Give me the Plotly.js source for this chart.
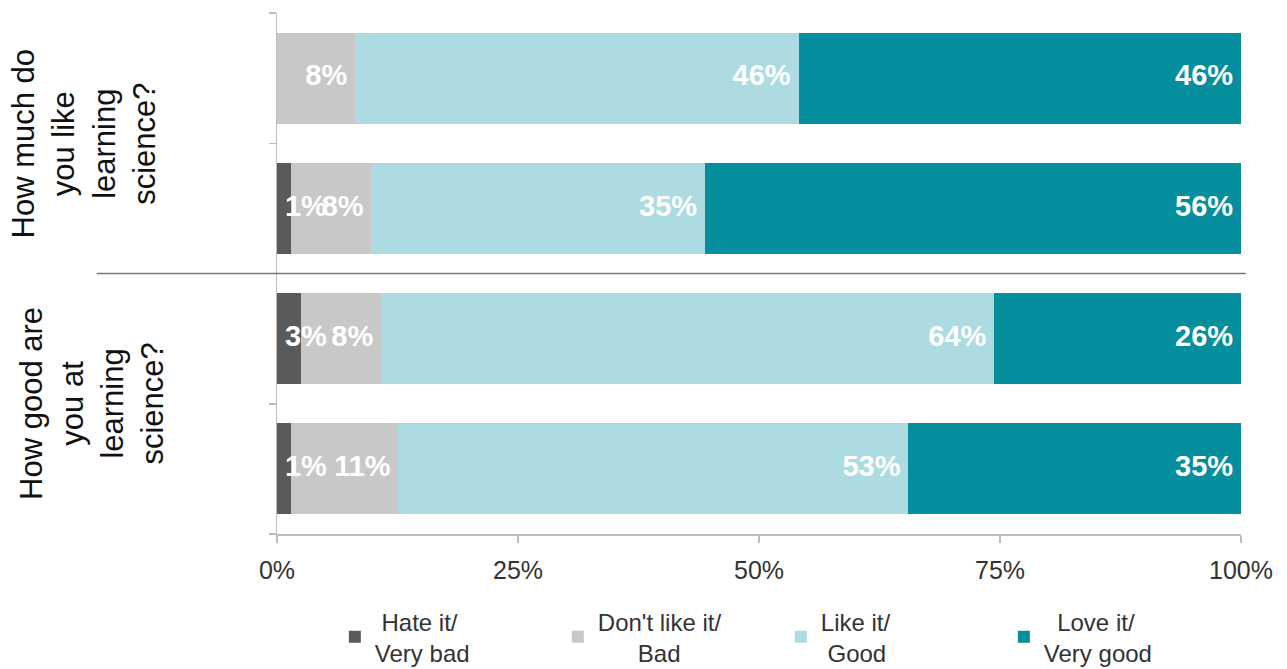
<!DOCTYPE html>
<html>
<head>
<meta charset="utf-8">
<script src="https://cdn.plot.ly/plotly-3.0.1.min.js"></script>
<style>html,body{margin:0;padding:0;background:#fff;}#chart{width:1287px;height:669px;}</style>
</head>
<body>
<div id="chart"></div>
<script>
// ---- data ----
const periods = ["Pre", "Post", "Pre", "Post"];
const questions = ["How much do<br>you like<br>learning<br>science?", "How good are<br>you at<br>learning<br>science?"];
const seriesNames = ["Hate it/<br>Very bad", "Don't like it/<br>Bad", "Like it/<br>Good", "Love it/<br>Very good"];
const hate    = [0,    1.4,  2.5,  1.4];
const dislike = [8.1,  8.4,  8.3,  11.2];
const like    = [46.0, 34.6, 63.6, 52.9];
const love    = [45.9, 55.6, 25.6, 34.5];
const xTicks = [0, 25, 50, 75, 100];
const xTickText = ["0%", "25%", "50%", "75%", "100%"];
const colors = ["#5a5a5a", "#c8c8c8", "#acdce2", "#058e9e"];

const font = "Liberation Sans, Arial, Helvetica, sans-serif";
const rowIdx = periods.map((_, i) => i);
const series = [hate, dislike, like, love];
const labelFont = {family: font, size: 29, color: "#ffffff", weight: "bold"};

// centre the two lines of each legend entry by padding the shorter line with no-break spaces
const legendSize = 24;
const measure = (() => {
  const c = document.createElement("canvas").getContext("2d");
  c.font = legendSize + "px Liberation Sans, Arial";
  return t => c.measureText(t).width;
})();
function centreLines(label) {
  const lines = label.split("<br>");
  const w = lines.map(measure);
  const maxW = Math.max(...w);
  const sp = measure("\u00a0") || legendSize * 0.278;
  return lines.map((l, i) => "\u00a0".repeat(Math.round((maxW - w[i]) / 2 / sp)) + l).join("<br>");
}

const traces = [];
series.forEach((vals, s) => {
  traces.push({
    type: "bar", orientation: "h", y: rowIdx, x: vals, width: 0.7,
    name: centreLines(seriesNames[s]), marker: {color: colors[s], line: {width: 0}},
    hoverinfo: "x+name"
  });
});
// value labels: right-aligned at the segment end; the first (thin) series is kept inside the plot, starting at the axis
let cum = [0, 0, 0, 0];
series.forEach((vals, s) => {
  const start = cum.slice();
  cum = cum.map((c, i) => c + vals[i]);
  const first = s === 0;
  traces.push({
    type: "scatter", mode: "markers+text", y: rowIdx, x: first ? start : cum.slice(),
    text: vals.map(v => v > 0 ? Math.round(v) + "%" : ""),
    textposition: first ? "middle right" : "middle left",
    textfont: labelFont,
    marker: {size: 11, opacity: 0},
    showlegend: false, hoverinfo: "skip", cliponaxis: false
  });
});

const axisColor = "#c2bbb6";
const layout = {
  width: 1287, height: 669,
  margin: {l: 277, r: 46, t: 13, b: 135, autoexpand: false},
  paper_bgcolor: "#fff", plot_bgcolor: "#fff",
  barmode: "stack", bargap: 0.3,
  font: {family: font, color: "#333"},
  xaxis: {
    range: [0, 100], tickvals: xTicks, ticktext: xTickText, tickmode: "array",
    showgrid: false, zeroline: false, fixedrange: true,
    showline: true, linecolor: axisColor, linewidth: 1.5,
    ticks: "outside", ticklen: 7, tickcolor: axisColor, tickwidth: 1.5,
    tickfont: {size: 25, color: "#333"}, ticklabelstandoff: 6
  },
  xaxis2: {
    overlaying: "x", anchor: "y", range: [0, 100], tickvals: xTicks, tickmode: "array",
    showticklabels: false, showgrid: false, zeroline: false, showline: false,
    ticks: "inside", ticklen: 7, tickcolor: axisColor, tickwidth: 1.5
  },
  yaxis: {
    range: [3.5, -0.5], tickvals: [-0.5, 0.5, 1.5, 2.5, 3.5], tickmode: "array",
    showticklabels: false, showgrid: false, zeroline: false,
    showline: true, linecolor: axisColor, linewidth: 1.5,
    ticks: "outside", ticklen: 7, tickcolor: axisColor, tickwidth: 1.5
  },
  yaxis2: {
    overlaying: "y", anchor: "x", side: "left", range: [3.5, -0.5],
    tickvals: rowIdx, ticktext: periods, tickmode: "array", ticks: "",
    showgrid: false, zeroline: false, showline: false,
    tickfont: {size: 25, color: "#333"}, ticklabelstandoff: 30
  },
  legend: {
    orientation: "h", x: 0.06, xanchor: "left", y: -0.125, yanchor: "top",
    entrywidth: 178, entrywidthmode: "pixels",
    font: {family: font, size: legendSize, color: "#333"},
    traceorder: "normal", valign: "middle"
  },
  shapes: [{
    type: "line", xref: "paper", yref: "y", x0: -0.187, x1: 1.005, y0: 1.5, y1: 1.5,
    line: {color: "#777", width: 1.5}
  }],
  annotations: questions.map((q, i) => ({
    text: q, xref: "paper", yref: "y", x: -0.20, y: 0.5 + 2 * i, xshift: i * 8,
    xanchor: "center", yanchor: "middle",
    textangle: -90, showarrow: false, align: "center",
    font: {family: font, size: 31, color: "#111"}
  }))
};

Plotly.newPlot("chart", traces, layout, {displayModeBar: false, staticPlot: true});
</script>
</body>
</html>
